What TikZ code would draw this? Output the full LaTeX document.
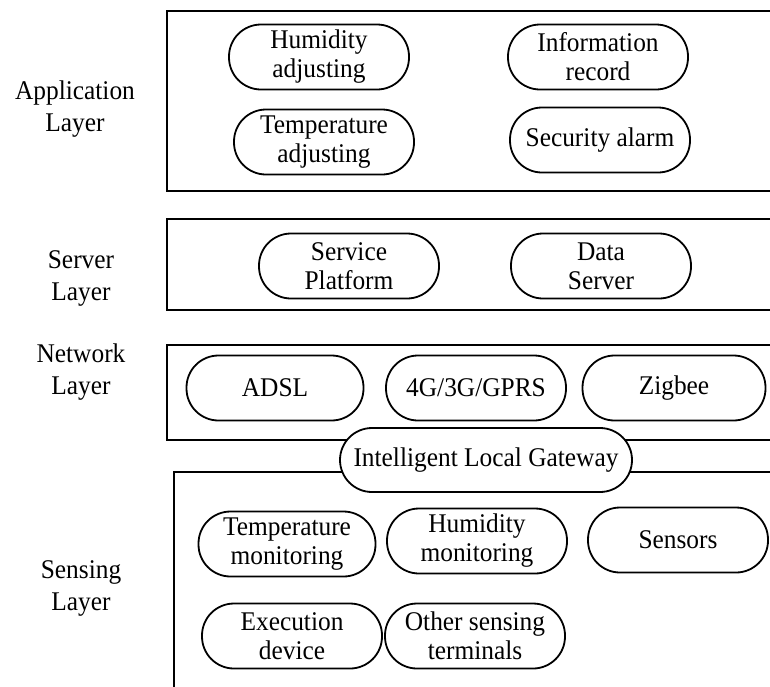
\documentclass[tikz,border=0pt]{standalone}
\usepackage{fontspec}
\setmainfont{Liberation Serif}
\newfontfamily\bodyfont[FakeStretch=0.94]{Liberation Serif}
\begin{document}
\begin{tikzpicture}[x=1pt,y=-1pt,
  txt/.style={font=\bodyfont\fontsize{27}{29}\selectfont},
  item/.style={txt, draw, line width=1.8pt, rounded corners=32pt,
    minimum width=180pt, minimum height=65pt, align=center, inner sep=0pt, fill=white},
  layerbox/.style={draw, line width=2pt},
  lbl/.style={font=\bodyfont\fontsize{27}{32}\selectfont, align=center}]
\clip (0,0) rectangle (770,686);
\fill[white] (0,0) rectangle (770,686);

% layer frames (open to the right / bottom)
\draw[layerbox] (167,11) rectangle (790,191);
\draw[layerbox] (167,219) rectangle (790,310);
\draw[layerbox] (167,345) rectangle (790,440);
\draw[layerbox] (174,472) rectangle (790,700);

% layer titles
\node[lbl] (tApp) at (75,109) {Application\\Layer};
\node[lbl] (tSrv) at (81,278) {Server\\Layer};
\node[lbl] (tNet) at (81,372) {Network\\Layer};
\node[lbl] (tSen) at (81,588) {Sensing\\Layer};

% application layer
\node[item] (humAdj) at (319,57) {Humidity\\adjusting};
\node[item] (infRec) at (598,57) {Information\\record};
\node[item] (tmpAdj) at (324,142) {Temperature\\adjusting};
\node[item] (secAl) at (600,140) {Security alarm};

% server layer
\node[item] (svcPl) at (349,266) {Service\\Platform};
\node[item] (datSrv) at (601,266) {Data\\Server};

% network layer
\node[item, minimum width=177pt] (adsl) at (275,388) {ADSL};
\node[item] (mob) at (476,388) {4G/3G/GPRS};
\node[item, minimum width=183pt] (zig) at (674,388) {Zigbee};

% gateway between network and sensing layers
\node[item, minimum width=292pt, minimum height=64pt] (gw) at (486,460) {Intelligent Local Gateway};

% sensing layer
\node[item, minimum width=177pt] (tmpMon) at (287,544) {Temperature\\monitoring};
\node[item] (humMon) at (477,541) {Humidity\\monitoring};
\node[item] (sens) at (678,540) {Sensors};
\node[item] (exeDev) at (292,636) {Execution\\device};
\node[item] (othTer) at (475,636) {Other sensing\\terminals};
\end{tikzpicture}
\end{document}
